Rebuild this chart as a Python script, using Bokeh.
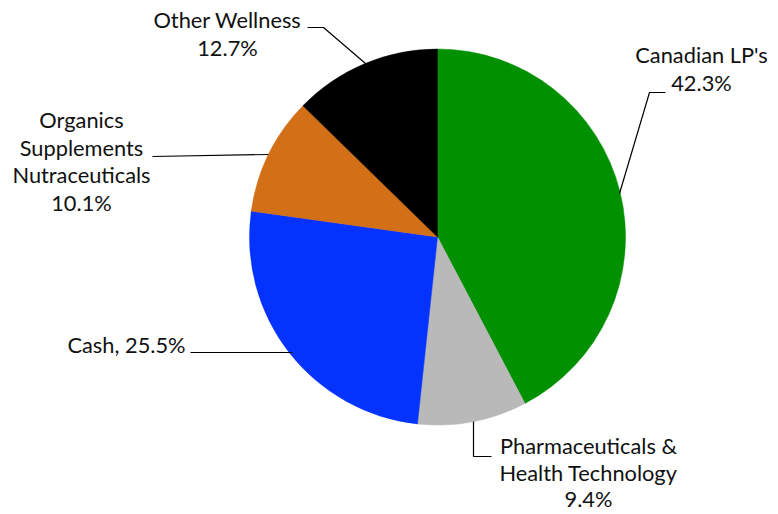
import math
from bokeh.plotting import figure
from bokeh.models import Range1d, ColumnDataSource
from bokeh.core.properties import value
from bokeh.embed import file_html
from bokeh.resources import INLINE

categories = ["Canadian LP's", "Pharmaceuticals & Health Technology", "Cash",
              "Organics Supplements Nutraceuticals", "Other Wellness"]
shares = [42.3, 9.4, 25.5, 10.1, 12.7]
colors = ["#009000", "#b9b9b9", "#0433ff", "#d26f17", "#000000"]
label_lines = [["Canadian LP's", "{v}%"],
               ["Pharmaceuticals &", "Health Technology", "{v}%"],
               ["Cash, {v}%"],
               ["Organics", "Supplements", "Nutraceuticals", "{v}%"],
               ["Other Wellness", "{v}%"]]

W, H = 778, 514
FONT = "Lato"
FS = "21.8px"

def Y(iy):
    return H - iy

p = figure(width=W, height=H, output_backend="svg", toolbar_location=None,
           x_range=Range1d(0, W), y_range=Range1d(0, H),
           min_border=0, outline_line_color=None)
p.axis.visible = False
p.grid.visible = False
p.background_fill_color = "white"

cx, cy, r = 437, Y(236.5), 188
total = sum(shares)
starts, ends = [], []
cum = 0.0
for s in shares:
    starts.append(math.pi / 2 - 2 * math.pi * cum / total)
    cum += s
    ends.append(math.pi / 2 - 2 * math.pi * cum / total)

src = ColumnDataSource(dict(start=starts, end=ends, color=colors, cat=categories))
p.wedge(x=cx, y=cy, radius=r, start_angle="start", end_angle="end",
        direction="clock", fill_color="color", line_color="color", line_width=0.5,
        source=src)

# label anchor positions (image pixel coordinates): center x, first baseline y
anchors = [(701, 54), (588, 445), (126, 344), (81, 119), (227, 19)]
line_hs = [27.5, 26.5, 27.5, 27.5, 27.5]
tx, ty, tt = [], [], []
for lines, v, (ax, ay), lh in zip(label_lines, shares, anchors, line_hs):
    for i, ln in enumerate(lines):
        tx.append(ax)
        ty.append(Y(ay + i * lh))
        tt.append(ln.format(v=v))
p.text(x=tx, y=ty, text=tt, text_align="center", text_baseline="alphabetic",
       text_font=value(FONT), text_font_size=FS, text_color="#111111")

# leader lines (image pixel coordinates)
leaders = [
    [(665, 92), (649, 92), (619, 193)],
    [(491, 456), (473, 456), (473, 421)],
    [(190, 352), (292, 352)],
    [(152, 156), (268, 154)],
    [(307, 27), (323, 27), (365, 63)],
]
p.multi_line(xs=[[a for a, b in L] for L in leaders],
             ys=[[Y(b) for a, b in L] for L in leaders],
             line_color="black", line_width=1.2)

open("out.html", "w").write(file_html(p, INLINE))
